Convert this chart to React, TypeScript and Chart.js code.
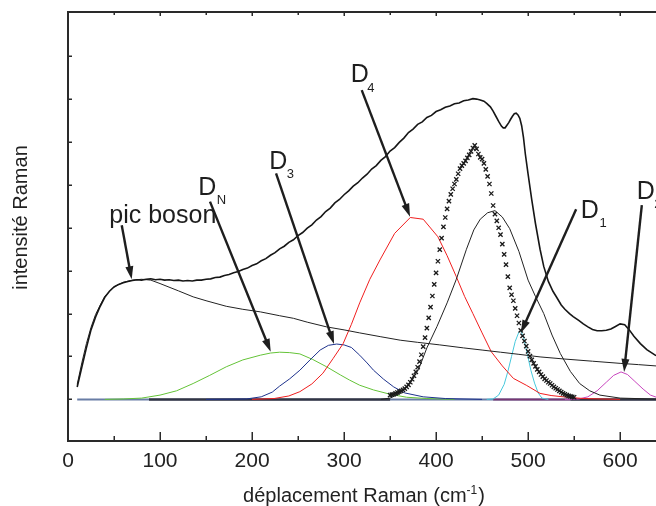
import React, { useEffect, useRef } from "react";
import { Chart, registerables } from "chart.js";
Chart.register(...registerables);

type P = [number, number];

const FONT = "'Liberation Sans', Arial, sans-serif";

// axis ticks
const xMajorTicks = [0, 100, 200, 300, 400, 500, 600];
const xMinorTicks = [50, 150, 250, 350, 450, 550, 650];
const yTicks = [0, 1, 2, 3, 4, 5, 6, 7, 8];

// experimental Raman spectrum
const spectre: P[] = [
  [10, 0.29], [15, 0.75], [20, 1.2], [25, 1.62], [30, 1.92], [35, 2.17], [40, 2.38], [45, 2.52],
  [50, 2.62], [55, 2.68], [60, 2.72], [65, 2.75], [70, 2.77], [75, 2.79], [80, 2.78], [85, 2.8],
  [90, 2.81], [95, 2.79], [100, 2.8], [105, 2.78], [110, 2.79], [115, 2.77], [120, 2.78], [125, 2.76],
  [130, 2.77], [135, 2.76], [140, 2.78], [145, 2.78], [150, 2.8], [155, 2.81], [160, 2.84], [165, 2.85],
  [170, 2.89], [175, 2.91], [180, 2.95], [185, 2.98], [190, 3.03], [195, 3.06], [200, 3.12], [205, 3.16],
  [210, 3.23], [215, 3.28], [220, 3.36], [225, 3.42], [230, 3.51], [235, 3.57], [240, 3.66], [245, 3.72],
  [250, 3.82], [255, 3.89], [260, 3.99], [265, 4.07], [270, 4.18], [275, 4.26], [280, 4.38], [285, 4.46],
  [290, 4.58], [295, 4.66], [300, 4.77], [305, 4.86], [310, 4.97], [315, 5.05], [320, 5.16], [325, 5.25],
  [330, 5.37], [335, 5.45], [340, 5.57], [345, 5.66], [350, 5.79], [355, 5.87], [360, 5.99], [365, 6.09],
  [370, 6.22], [375, 6.3], [380, 6.41], [385, 6.47], [390, 6.57], [395, 6.62], [400, 6.71], [405, 6.75],
  [410, 6.81], [415, 6.84], [420, 6.89], [425, 6.91], [430, 6.96], [435, 6.98], [440, 7.01], [444, 7.0],
  [448, 6.98], [452, 6.95], [455, 6.9], [459, 6.82], [462, 6.72], [465, 6.6], [468, 6.48], [471, 6.37],
  [473, 6.33], [475, 6.33], [477, 6.39], [479, 6.45], [481, 6.53], [483, 6.6], [485, 6.66], [487, 6.67],
  [489, 6.63], [491, 6.55], [493, 6.38], [495, 6.1], [497, 5.72], [500, 5.25], [504, 4.65], [508, 4.1],
  [513, 3.5], [517, 3.1], [522, 2.75], [527, 2.52], [531, 2.38], [536, 2.2], [540, 2.1], [545, 2.0],
  [549, 1.93], [555, 1.84], [560, 1.76], [565, 1.69], [570, 1.63], [575, 1.6], [580, 1.6], [585, 1.61],
  [590, 1.64], [595, 1.7], [600, 1.76], [605, 1.74], [610, 1.62], [615, 1.47], [622, 1.3], [629, 1.16],
  [639, 1.02], [650, 0.92],
];

// boson peak fit
const picBoson: P[] = [
  [10, 0.35], [15, 0.85], [20, 1.3], [25, 1.68], [30, 1.98], [35, 2.2], [40, 2.4], [50, 2.62],
  [60, 2.73], [70, 2.78], [80, 2.8], [90, 2.78], [100, 2.7], [120, 2.53], [136, 2.39], [150, 2.3],
  [172, 2.17], [190, 2.1], [209, 2.04], [230, 1.95], [245, 1.89], [260, 1.8], [281, 1.69], [300, 1.62],
  [317, 1.55], [340, 1.46], [361, 1.38], [380, 1.33], [404, 1.27], [430, 1.2], [450, 1.15], [470, 1.1],
  [490, 1.05], [513, 0.99], [540, 0.94], [570, 0.89], [600, 0.84], [620, 0.81], [639, 0.78], [650, 0.76],
];

// crosses band (~440 cm-1)
const bandeCroix: P[] = [
  [350, 0.1], [352, 0.11], [354, 0.12], [356, 0.14], [358, 0.16], [360, 0.18], [362, 0.2], [364, 0.22],
  [366, 0.25], [368, 0.29], [370, 0.34], [372, 0.4], [374, 0.47], [376, 0.55], [378, 0.64], [380, 0.75],
  [382, 0.88], [384, 1.04], [386, 1.23], [388, 1.44], [390, 1.66], [392, 1.9], [394, 2.15], [396, 2.41],
  [398, 2.68], [400, 2.95], [402, 3.22], [404, 3.49], [406, 3.76], [408, 4.02], [410, 4.24], [412, 4.44],
  [414, 4.62], [416, 4.78], [418, 4.91], [420, 5.02], [422, 5.13], [424, 5.26], [426, 5.38], [428, 5.45],
  [430, 5.5], [432, 5.56], [434, 5.63], [436, 5.7], [438, 5.78], [440, 5.86], [442, 5.92], [444, 5.84],
  [446, 5.72], [448, 5.64], [450, 5.6], [452, 5.5], [454, 5.36], [456, 5.2], [458, 5.02], [460, 4.8],
  [462, 4.52], [464, 4.32], [466, 4.16], [468, 4.0], [470, 3.84], [472, 3.62], [474, 3.38], [476, 3.14],
  [478, 2.86], [480, 2.6], [482, 2.44], [484, 2.3], [486, 2.12], [488, 1.95], [490, 1.78], [492, 1.61],
  [494, 1.48], [496, 1.36], [498, 1.24], [500, 1.12], [502, 1.01], [504, 0.92], [506, 0.84], [508, 0.77],
  [510, 0.7], [512, 0.64], [514, 0.58], [516, 0.53], [518, 0.48], [520, 0.44], [522, 0.4], [524, 0.37],
  [526, 0.33], [528, 0.29], [530, 0.26], [532, 0.23], [534, 0.2], [536, 0.17], [538, 0.14], [540, 0.12],
  [542, 0.1], [544, 0.08], [546, 0.07], [548, 0.06], [550, 0.05],
];

// black thin band (~465 cm-1)
const bandeNoire: P[] = [
  [340, 0], [350, 0.03], [361, 0.14], [372, 0.4], [381, 0.7], [390, 1.2], [401, 1.7], [412, 2.25],
  [422, 2.8], [433, 3.5], [441, 3.95], [448, 4.2], [456, 4.35], [464, 4.4], [472, 4.25], [480, 3.98],
  [490, 3.45], [500, 2.78], [508, 2.4], [517, 2.0], [526, 1.5], [535, 1.07], [546, 0.65], [556, 0.37],
  [567, 0.2], [578, 0.1], [600, 0.03], [650, 0],
];

const bandeD4: P[] = [
  [200, 0], [224, 0.02], [240, 0.08], [252, 0.18], [265, 0.36], [277, 0.61], [288, 0.95], [299, 1.3],
  [308, 1.75], [317, 2.25], [328, 2.8], [339, 3.25], [355, 3.87], [372, 4.24], [386, 4.2], [402, 3.79],
  [412, 3.35], [422, 2.86], [431, 2.4], [440, 2.0], [450, 1.55], [460, 1.11], [472, 0.78], [484, 0.49],
  [498, 0.33], [513, 0.14], [525, 0.09], [538, 0.06], [560, 0.02], [600, 0],
];

const bandeD3: P[] = [
  [150, 0], [194, 0.01], [210, 0.06], [222, 0.17], [230, 0.31], [241, 0.48], [252, 0.68], [263, 0.92],
  [274, 1.15], [283, 1.26], [292, 1.29], [300, 1.27], [308, 1.21], [317, 1.03], [325, 0.85], [332, 0.68],
  [343, 0.47], [354, 0.29], [366, 0.15], [386, 0.06], [410, 0.02], [450, 0],
];

const bandeDN: P[] = [
  [40, 0], [60, 0.01], [80, 0.03], [100, 0.1], [118, 0.2], [136, 0.37], [154, 0.56], [172, 0.76],
  [190, 0.92], [209, 1.03], [220, 1.08], [230, 1.1], [241, 1.09], [252, 1.06], [266, 0.93], [281, 0.76],
  [296, 0.57], [306, 0.45], [317, 0.33], [332, 0.22], [350, 0.12], [368, 0.05], [390, 0.02], [420, 0],
];

const bandeD1: P[] = [
  [455, 0], [462, 0.01], [468, 0.1], [474, 0.35], [478, 0.65], [482, 1.0], [486, 1.35], [490, 1.57],
  [492, 1.6], [495, 1.45], [499, 1.07], [503, 0.68], [507, 0.38], [511, 0.15], [515, 0.03], [522, 0],
];

const bandeD2: P[] = [
  [540, 0], [555, 0.01], [565, 0.06], [575, 0.2], [585, 0.4], [593, 0.56], [601, 0.64], [608, 0.58],
  [616, 0.42], [625, 0.24], [633, 0.1], [642, 0.03], [650, 0],
];

// baseline segments
const ligneBase: P[] = [[10, 0], [660, 0]];
const ligneBaseSombreA: P[] = [[88, 0], [350, 0]];
const ligneBaseSombreB: P[] = [[546, 0], [660, 0]];
const ligneBaseViolette: P[] = [[462, 0], [546, 0]];

// annotations (data coordinates)
const annoTexts = ["pic boson", "D", "D", "D", "D", "D"];
const annoPos: P[] = [[44.9, 4.1], [141.6, 4.76], [218.8, 5.36], [307.3, 7.4], [557.3, 4.22], [618.2, 4.66]];
const annoSubs = ["", "N", "3", "4", "1", "2"];
const annoSubPos: P[] = [[0, 0], [161.6, 4.55], [237.7, 5.15], [325.3, 7.17], [577.5, 4.01], [637, 4.45]];
const arrowFrom: P[] = [[58.4, 4.06], [154.3, 4.61], [226.1, 5.27], [319.2, 7.21], [552.2, 4.43], [623.6, 4.53]];
const arrowTo: P[] = [[69.2, 2.8], [220.3, 1.11], [289.1, 1.29], [371.7, 4.26], [492.1, 1.55], [604.3, 0.64]];

const xTitle = "déplacement Raman (cm";
const xTitleSup = "-1";
const xTitleEnd = ")";
const yTitle = "intensité Raman";

const toXY = (arr: P[]) => arr.map(([x, y]) => ({ x, y }));

const line = (data: P[], color: string, width: number) => ({
  data: toXY(data),
  borderColor: color,
  backgroundColor: color,
  borderWidth: width,
  pointRadius: 0,
  showLine: true,
  fill: false,
  tension: 0,
});

const decorPlugin = {
  id: "decor",
  afterDraw(chart: any) {
    const { ctx, chartArea: a, scales } = chart;
    const xs = scales.x;
    const ys = scales.y;
    ctx.save();
    const ink = "#2a2a2a";
    // frame
    ctx.strokeStyle = ink;
    ctx.lineWidth = 2;
    ctx.beginPath();
    ctx.moveTo(a.left, a.top);
    ctx.lineTo(a.right, a.top);
    ctx.moveTo(a.left, a.top - 1);
    ctx.lineTo(a.left, a.bottom + 1);
    ctx.moveTo(a.left, a.bottom);
    ctx.lineTo(a.right, a.bottom);
    ctx.stroke();
    // ticks
    ctx.lineWidth = 1.5;
    ctx.beginPath();
    for (const v of xMajorTicks) {
      const px = Math.round(xs.getPixelForValue(v)) + 0.25;
      ctx.moveTo(px, a.bottom);
      ctx.lineTo(px, a.bottom - 9);
      ctx.moveTo(px, a.top);
      ctx.lineTo(px, a.top + 4);
    }
    for (const v of xMinorTicks) {
      const px = Math.round(xs.getPixelForValue(v)) + 0.25;
      ctx.moveTo(px, a.bottom);
      ctx.lineTo(px, a.bottom - 5);
      ctx.moveTo(px, a.top);
      ctx.lineTo(px, a.top + 3);
    }
    for (const v of yTicks) {
      const py = Math.round(ys.getPixelForValue(v)) + 0.25;
      ctx.moveTo(a.left, py);
      ctx.lineTo(a.left + 4, py);
    }
    ctx.stroke();

    // annotations
    ctx.fillStyle = "#1e1e1e";
    ctx.textBaseline = "alphabetic";
    ctx.textAlign = "left";
    annoTexts.forEach((t, i) => {
      ctx.font = `25px ${FONT}`;
      ctx.fillText(t, xs.getPixelForValue(annoPos[i][0]), ys.getPixelForValue(annoPos[i][1]));
      if (annoSubs[i]) {
        ctx.font = `13px ${FONT}`;
        ctx.fillText(annoSubs[i], xs.getPixelForValue(annoSubPos[i][0]), ys.getPixelForValue(annoSubPos[i][1]));
      }
    });
    ctx.strokeStyle = "#1e1e1e";
    ctx.lineWidth = 2.4;
    arrowFrom.forEach((f, i) => {
      const x0 = xs.getPixelForValue(f[0]);
      const y0 = ys.getPixelForValue(f[1]);
      const x1 = xs.getPixelForValue(arrowTo[i][0]);
      const y1 = ys.getPixelForValue(arrowTo[i][1]);
      const ang = Math.atan2(y1 - y0, x1 - x0);
      const hl = 13;
      const hw = 4;
      const bx = x1 - hl * Math.cos(ang);
      const by = y1 - hl * Math.sin(ang);
      ctx.beginPath();
      ctx.moveTo(x0, y0);
      ctx.lineTo(bx + 2 * Math.cos(ang), by + 2 * Math.sin(ang));
      ctx.stroke();
      ctx.beginPath();
      ctx.moveTo(x1, y1);
      ctx.lineTo(bx - hw * Math.sin(ang), by + hw * Math.cos(ang));
      ctx.lineTo(bx + hw * Math.sin(ang), by - hw * Math.cos(ang));
      ctx.closePath();
      ctx.fill();
    });

    // x title
    ctx.fillStyle = "#222";
    ctx.font = `20px ${FONT}`;
    const w1 = ctx.measureText(xTitle).width;
    const w3 = ctx.measureText(xTitleEnd).width;
    ctx.font = `12px ${FONT}`;
    const w2 = ctx.measureText(xTitleSup).width;
    const cx = 364;
    let sx = cx - (w1 + w2 + w3 + 1) / 2;
    const by = 502;
    ctx.font = `20px ${FONT}`;
    ctx.fillText(xTitle, sx, by);
    sx += w1;
    ctx.font = `12px ${FONT}`;
    ctx.fillText(xTitleSup, sx, by - 8);
    sx += w2 + 1;
    ctx.font = `20px ${FONT}`;
    ctx.fillText(xTitleEnd, sx, by);

    // y title
    ctx.save();
    ctx.translate(26.5, 217.5);
    ctx.rotate(-Math.PI / 2);
    ctx.textAlign = "center";
    ctx.font = `20px ${FONT}`;
    ctx.fillText(yTitle, 0, 0);
    ctx.restore();

    ctx.restore();
  },
};

export default function App() {
  const ref = useRef<HTMLCanvasElement | null>(null);
  useEffect(() => {
    if (!ref.current) return;
    const chart = new Chart(ref.current, {
      type: "scatter",
      data: {
        datasets: [
          line(spectre, "#161616", 1.6),
          line(picBoson, "#222222", 1),
          {
            data: toXY(bandeCroix),
            showLine: false,
            pointStyle: "crossRot",
            pointRadius: 3,
            pointBorderWidth: 1.3,
            borderColor: "#1a1a1a",
            backgroundColor: "#1a1a1a",
          },
          line(bandeNoire, "#222222", 1),
          line(bandeD4, "rgb(240,30,30)", 1),
          line(bandeD3, "rgb(30,50,140)", 1),
          line(bandeDN, "rgb(100,195,55)", 1),
          line(bandeD1, "rgb(70,200,220)", 1),
          line(bandeD2, "rgb(200,70,190)", 1),
          line(ligneBaseSombreA, "rgba(40,40,50,0.85)", 2.5),
          line(ligneBaseSombreB, "rgba(40,40,50,0.85)", 2.5),
          line(ligneBaseViolette, "rgb(120,55,115)", 2),
          line(ligneBase, "rgb(105,125,165)", 2),
        ] as any,
      },
      options: {
        animation: false,
        responsive: false,
        maintainAspectRatio: false,
        layout: { padding: { left: 68, top: 12, right: 44, bottom: 0 } },
        plugins: { legend: { display: false }, tooltip: { enabled: false }, title: { display: false } },
        scales: {
          x: {
            type: "linear",
            min: 0,
            max: 639,
            grid: { display: false, drawTicks: false },
            border: { display: false },
            afterBuildTicks: (s: any) => {
              s.ticks = xMajorTicks.map((v) => ({ value: v }));
            },
            afterFit: (s: any) => {
              s.height = 65;
            },
            ticks: {
              color: "#222",
              font: { size: 21, family: FONT },
              padding: 8,
              maxRotation: 0,
              autoSkip: false,
            },
          },
          y: {
            type: "linear",
            min: -0.97,
            max: 9.03,
            display: false,
          },
        },
      } as any,
      plugins: [decorPlugin],
    });
    return () => chart.destroy();
  }, []);
  return (
    <div style={{ position: "fixed", left: 0, top: 0, width: 656, height: 506, overflow: "hidden", background: "#fff" }}>
      <canvas ref={ref} width={700} height={506} style={{ width: 700, height: 506, display: "block" }} />
    </div>
  );
}
